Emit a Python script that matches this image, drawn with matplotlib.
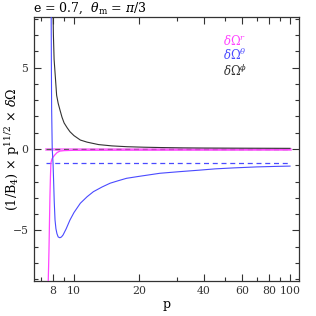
import matplotlib
matplotlib.use("Agg")
import matplotlib.pyplot as plt
from matplotlib.ticker import FixedLocator, FixedFormatter, MultipleLocator

# --- data ---
p_phi = [8.00, 8.03, 8.09, 8.20, 8.31, 8.45, 8.61, 8.8, 9.0, 9.3, 9.58, 10.0, 10.7, 11.5,
         13.0, 15.0, 17.6, 21.0, 25.0, 32.0, 40.0, 60.0, 100.0]
d_phi = [8.4, 7.0, 5.5, 4.4, 3.3, 2.8, 2.4, 1.95, 1.6, 1.3, 1.06, 0.82, 0.55, 0.42,
         0.27, 0.19, 0.14, 0.11, 0.09, 0.07, 0.06, 0.05, 0.04]

p_theta = [7.84, 7.86, 7.88, 7.93, 7.97, 8.00, 8.05, 8.10, 8.17, 8.25, 8.34, 8.45, 8.60, 8.75,
           8.9, 9.2, 9.58, 10.0, 10.7, 11.5, 12.3, 13.5, 14.7, 16.0, 17.5, 20.0, 25.0, 30.9,
           38.0, 45.0, 55.0, 70.0, 85.0, 100.0]
d_theta = [8.4, 5.0, 2.5, 0.0, -0.5, -0.9, -2.0, -3.2, -4.36, -4.9, -5.2, -5.4, -5.45, -5.4,
           -5.28, -4.9, -4.36, -3.9, -3.33, -2.93, -2.62, -2.33, -2.1, -1.95, -1.8, -1.68, -1.49, -1.39,
           -1.3, -1.22, -1.16, -1.1, -1.07, -1.05]

p_r = [7.58, 7.60, 7.63, 7.66, 7.70, 7.74, 7.78, 7.82, 7.90, 8.0, 8.17, 8.35, 8.6, 9.0,
       10.0, 20.0, 50.0, 100.0]
d_r = [-8.6, -8.1, -7.2, -6.2, -4.5, -2.9, -1.7, -0.86, -0.62, -0.5, -0.35, -0.22, -0.13, -0.1,
       -0.08, -0.06, -0.05, -0.04]

p_asym = [7.4, 100.0]
asym_phi = [0.0, 0.0]
asym_theta = [-0.88, -0.88]

x_major = [8, 10, 20, 40, 60, 80, 100]
x_minor = [7, 9, 30, 50, 70, 90]
x_labels = ["8", "10", "20", "40", "60", "80", "100"]

c_r = "#ff44ff"
c_th = "#4a4aff"
c_ph = "#333333"

plt.rcParams['font.family'] = ['DejaVu Serif']
plt.rcParams['mathtext.fontset'] = 'dejavuserif'

fig = plt.figure(figsize=(3.16, 3.16), dpi=100)
ax = fig.add_axes([0.1076, 0.111, 0.8386, 0.835])

ax.plot(p_asym, asym_phi, color="#ff88ff", lw=2.0, zorder=1)
ax.plot(p_asym, asym_phi, color="#555555", lw=0.9, ls=(0, (4, 3)), zorder=2)
ax.plot(p_asym, asym_theta, color=c_th, lw=0.9, ls=(0, (4, 3)), zorder=2)
ax.plot(p_r, d_r, color=c_r, lw=0.9, zorder=3)
ax.plot(p_theta, d_theta, color=c_th, lw=0.8, zorder=4)
ax.plot(p_phi, d_phi, color=c_ph, lw=0.8, zorder=4)

ax.set_xscale('log')
ax.set_xlim(6.53, 110)
ax.set_ylim(-8.1, 8.1)

ax.xaxis.set_major_locator(FixedLocator(x_major))
ax.xaxis.set_major_formatter(FixedFormatter(x_labels))
ax.xaxis.set_minor_locator(FixedLocator(x_minor))
ax.xaxis.set_minor_formatter(FixedFormatter([""] * len(x_minor)))
ax.yaxis.set_major_locator(FixedLocator([-5, 0, 5]))
ax.yaxis.set_major_formatter(FixedFormatter(["\u22125", "0", "5"]))
ax.yaxis.set_minor_locator(MultipleLocator(1))

ax.tick_params(which='both', direction='in', top=True, right=True, labelsize=7.8, colors='#333333')
ax.tick_params(which='major', length=5, width=0.8, pad=4)
ax.tick_params(which='minor', length=2.8, width=0.8)
for s in ax.spines.values():
    s.set_color('#333333')
    s.set_linewidth(0.9)

ax.set_xlabel("p", fontsize=9, labelpad=1)
fig.text(0.04, 0.527, r"(1/B$_4$) $\times$ p$^{11/2}$ $\times$ $\delta\Omega$", fontsize=9.2,
         rotation=90, ha='center', va='center')

fig.text(0.104, 0.962, r"e = 0.7,  $\theta_{\rm m}$ = $\pi$/3", fontsize=9, ha='left', va='baseline')

fig.text(0.705, 0.858, r"$\delta\Omega^{r}$", color=c_r, fontsize=8.5)
fig.text(0.705, 0.81, r"$\delta\Omega^{\theta}$", color=c_th, fontsize=8.5)
fig.text(0.705, 0.758, r"$\delta\Omega^{\phi}$", color=c_ph, fontsize=8.5)

fig.savefig("out.png", dpi=100)
